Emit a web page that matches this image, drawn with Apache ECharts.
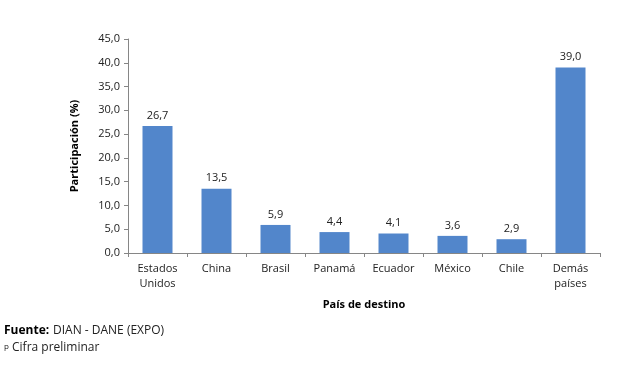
<!DOCTYPE html>
<html>
<head>
<meta charset="utf-8">
<script src="https://cdn.jsdelivr.net/npm/echarts@6/dist/echarts.min.js"></script>
<style>html,body{margin:0;padding:0;background:#fff}#c{width:617px;height:365px}</style>
</head>
<body>
<div id="c"></div>
<script>
const categories = ["Estados\nUnidos", "China", "Brasil", "Panamá", "Ecuador", "México", "Chile", "Demás\npaíses"];
const values = [26.7, 13.5, 5.9, 4.4, 4.1, 3.6, 2.9, 39.0];
const yAxisTitle = "Participación (%)";
const xAxisTitle = "País de destino";

const fmt = v => v.toFixed(1).replace('.', ',');
const FONT = "'Open Sans', 'Noto Sans', sans-serif";
const chart = echarts.init(document.getElementById('c'), null, {renderer: 'canvas'});
chart.setOption({
  animation: false,
  textStyle: {fontFamily: FONT},
  grid: {left: 128, right: 17, top: 39, bottom: 112, containLabel: false},
  xAxis: {
    type: 'category',
    data: categories,
    axisLine: {lineStyle: {color: '#868686'}},
    axisTick: {show: true, alignWithLabel: false, length: 4, lineStyle: {color: '#868686'}},
    axisLabel: {color: '#222', fontSize: 11, fontFamily: FONT, margin: 8, lineHeight: 15, interval: 0},
    name: xAxisTitle,
    nameLocation: 'middle',
    nameGap: 46,
    nameTextStyle: {color: '#000', fontWeight: 'bold', fontSize: 11, fontFamily: FONT}
  },
  yAxis: {
    type: 'value',
    min: 0, max: 45, interval: 5,
    axisLine: {show: true, lineStyle: {color: '#868686'}},
    axisTick: {show: true, length: 4, lineStyle: {color: '#868686'}},
    splitLine: {show: false},
    axisLabel: {color: '#222', fontSize: 11, fontFamily: FONT, margin: 8, formatter: v => fmt(v)},
    name: yAxisTitle,
    nameLocation: 'middle',
    nameGap: 48,
    nameRotate: 90,
    nameTextStyle: {color: '#000', fontWeight: 'bold', fontSize: 11, fontFamily: FONT}
  },
  series: [{
    type: 'bar',
    data: values,
    barWidth: 30,
    itemStyle: {color: '#5286CB'},
    label: {show: true, position: 'top', distance: 5, color: '#222', fontSize: 11, fontFamily: FONT, formatter: p => fmt(p.value)}
  }],
  graphic: [
    {type: 'text', left: 4, top: 325, style: {text: 'Fuente:', font: "bold 12px 'Open Sans', sans-serif", fill: '#000'}},
    {type: 'text', left: 53, top: 325, style: {text: 'DIAN - DANE (EXPO)', font: "12px 'Open Sans', sans-serif", fill: '#222'}},
    {type: 'text', left: 4, top: 343, style: {text: 'p', font: "8px 'Open Sans', sans-serif", fill: '#222'}},
    {type: 'text', left: 12, top: 342, style: {text: 'Cifra preliminar', font: "12px 'Open Sans', sans-serif", fill: '#222'}}
  ]
});
</script>
</body>
</html>
